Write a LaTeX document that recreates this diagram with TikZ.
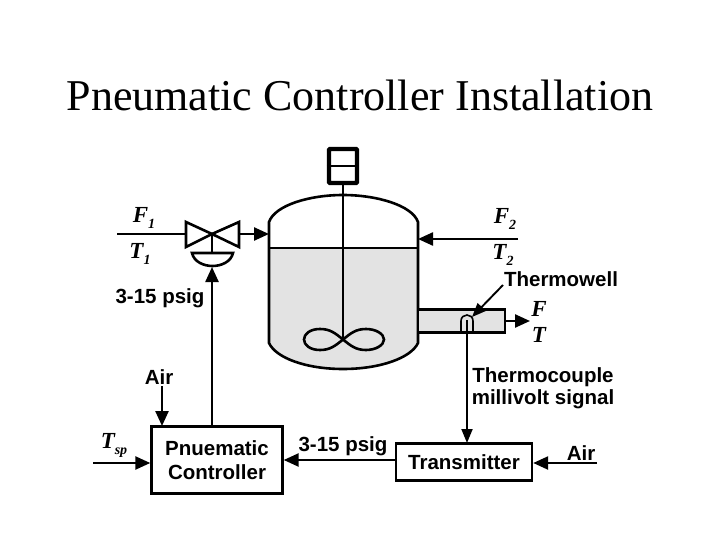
\documentclass[tikz,border=0pt]{standalone}
\usepackage{fontspec}
\setmainfont{Liberation Sans}
\newfontfamily\titlefont{Liberation Serif}
\usetikzlibrary{arrows.meta}
\newcommand{\varsub}[2]{#1\raisebox{-6pt}{\fontsize{14}{14}\selectfont #2}}
\begin{document}
\begin{tikzpicture}[x=1pt, y=-1pt, font=\fontsize{20.5}{22}\selectfont\bfseries,
  block/.style={draw, line width=2.4pt, inner sep=0pt, align=center, fill=white},
  lab/.style={inner sep=0pt, align=center},
  var/.style={inner sep=0pt, font=\titlefont\fontsize{23}{24}\selectfont\bfseries\itshape},
  pipe/.style={line width=2.6pt},
  arr/.style={-{Stealth[length=15pt,width=13pt,inset=0pt]}, line width=2.4pt},
  thinarr/.style={-{Stealth[length=14pt,width=11pt,inset=0pt]}, line width=1.9pt}
]
  \useasboundingbox (0,0) rectangle (720,540);
  \fill[white] (0,0) rectangle (720,540);
  \node[inner sep=0pt, font=\titlefont\fontsize{44}{48}\selectfont\mdseries] (title) at (360,95) {Pneumatic Controller Installation};

  % vessel
  \fill[black!11] (269,248) -- (418,248) -- (418,343) .. controls (411,358) and (380,369) .. (343,369)
    .. controls (306,369) and (276,358) .. (269,343) -- cycle;
  \draw[pipe] (269,222) .. controls (275,205) and (310,195) .. (343,195)
    .. controls (376,195) and (412,205) .. (418,222) -- (418,343)
    .. controls (411,358) and (380,369) .. (343,369)
    .. controls (306,369) and (276,358) .. (269,343) -- cycle;
  \draw[pipe] (269,248) -- (418,248);
  \coordinate (inlet1) at (269,234);
  \coordinate (inlet2) at (418,239);

  % agitator
  \node[draw, line width=4.4pt, rounded corners=1pt, minimum width=28pt, minimum height=34pt, inner sep=0pt] (motor) at (343,166) {};
  \draw[line width=2.2pt] (motor.west) -- (motor.east);
  \coordinate (hub) at (343,339.5);
  \draw[pipe] (motor.south) -- (hub);
  \draw[pipe] (hub) .. controls (335,333) and (330,329) .. (320,329) .. controls (310,329) and (304,334) .. (304,339.5)
    .. controls (304,345) and (310,350) .. (320,350) .. controls (330,350) and (335,346) .. (hub)
    .. controls (351,333) and (356,329) .. (366,329) .. controls (376,329) and (384,334) .. (384,339.5)
    .. controls (384,345) and (376,350) .. (366,350) .. controls (356,350) and (351,346) .. (hub);

  % valve
  \coordinate (valve) at (212,234);
  \coordinate (valveL) at (186,234);
  \coordinate (valveR) at (239,234);
  \coordinate (feed1) at (117,234);
  \coordinate (diaph) at (212,253);
  \coordinate (diaphB) at (212,267);
  \draw[pipe] (valve) -- (186,222) -- (186,247) -- cycle;
  \draw[pipe] (valve) -- (239,222) -- (239,247) -- cycle;
  \draw[pipe] (feed1) -- (valveL);
  \draw[arr] (valveR) -- (inlet1);
  \draw[pipe] (valve) -- (diaph);
  \draw[pipe] (192,253) -- (233,253) .. controls (231,262) and (221,266) .. (212.5,266)
    .. controls (204,266) and (194,262) .. (192,253) -- cycle;

  % outlet
  \node[draw, line width=2.4pt, fill=black!11, minimum width=87pt, minimum height=23pt, inner sep=0pt] (outlet) at (461.5,321) {};
  \coordinate (outT) at (530,321);
  \draw[arr] (outlet.east) -- (outT);
  \coordinate (wellB) at (467,320);
  \draw[line width=1.6pt] (461,333) -- (461,321) .. controls (461,313) and (473,313) .. (473,321) -- (473,333);

  % boxes
  \node[block, minimum width=131pt, minimum height=67pt] (ctrl) at (217,460) {Pnuematic\\[2pt]Controller};
  \node[block, minimum width=136pt, minimum height=37pt] (trans) at (464,462) {Transmitter};
  \coordinate (trans1) at (467,443);

  % signals
  \coordinate (ctrlT) at (212,426);
  \draw[arr] (ctrlT) -- (diaphB);
  \draw[thinarr] (wellB) -- (trans1);
  \draw[arr] (trans.west |- 0,460) -- (ctrl.east |- 0,460);
  \coordinate (tsp) at (93,463);
  \draw[arr] (tsp) -- (ctrl.west |- tsp);
  \coordinate (airC) at (162,386);
  \draw[arr] (airC) -- (162,426);
  \coordinate (airT) at (597,463);
  \draw[arr] (airT) -- (trans.east |- airT);
  \coordinate (feed2) at (518,239);
  \draw[arr] (feed2) -- (inlet2);
  \coordinate (wellLab) at (503,285);
  \draw[thinarr] (wellLab) -- (472,317);

  % labels
  \node[var] (f1) at (144,218) {\varsub{F}{1}};
  \node[var] (t1) at (140,254) {\varsub{T}{1}};
  \node[var] (f2) at (505,219) {\varsub{F}{2}};
  \node[var] (t2) at (503,255) {\varsub{T}{2}};
  \node[var] (f3) at (539,309) {F};
  \node[var] (t3) at (539,335) {T};
  \node[var] (tsplab) at (114,445) {\varsub{T}{\textit{sp}}};
  \node[lab] (psig1) at (160,298) {3-15 psig};
  \node[lab] (psig2) at (343,446) {3-15 psig};
  \node[lab] (airlab1) at (159,377) {Air};
  \node[lab] (airlab2) at (581,453) {Air};
  \node[lab] (well) at (561,279) {Thermowell};
  \node[lab] (couple) at (543,388) {Thermocouple\\millivolt signal};
\end{tikzpicture}
\end{document}
